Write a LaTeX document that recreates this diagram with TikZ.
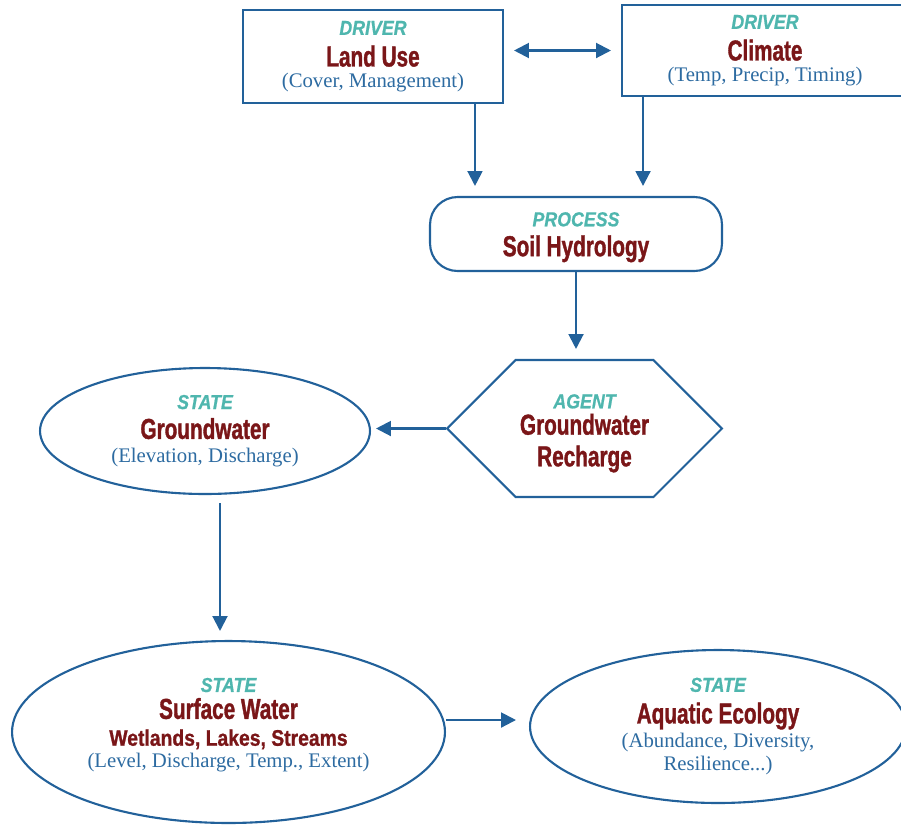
\documentclass[tikz,border=0pt]{standalone}
\usepackage{fontspec}
\usetikzlibrary{arrows.meta,positioning,calc,shapes.geometric,shapes.symbols}
\setmainfont{Liberation Serif}
\newfontfamily\kindfont{Liberation Sans}[FakeStretch=0.88,BoldItalicFeatures={FakeBold=0.8}]
\newfontfamily\titlefont{Liberation Sans}[FakeStretch=0.72,BoldFeatures={FakeBold=1.2}]
\newfontfamily\listfont{Liberation Sans}[FakeStretch=0.86,BoldFeatures={FakeBold=1.0}]
\definecolor{Frame}{HTML}{22619A}
\definecolor{Teal}{HTML}{4FB6AE}
\definecolor{Wine}{HTML}{7A1618}
\definecolor{Note}{HTML}{2D6BA1}
\newcommand\nodekind[1]{{\kindfont\bfseries\itshape\fontsize{11.5}{18}\selectfont\color{Teal}#1}}
\newcommand\nodetitle[1]{{\titlefont\bfseries\fontsize{16.4}{18}\selectfont\color{Wine}#1}}
\newcommand\nodelist[1]{{\listfont\bfseries\fontsize{12.8}{18}\selectfont\color{Wine}#1}}
\newcommand\nodenote[1]{{\fontsize{11.8}{18}\selectfont\color{Note}#1}}
\tikzset{
  box/.style={draw=Frame,line width=1.2pt,align=center,inner sep=0pt,font=\fontsize{11}{18}\selectfont},
  link/.style={draw=Frame,line width=1.2pt,-{Triangle[length=8.5pt,width=8.5pt]}}
}
\begin{document}
\begin{tikzpicture}[x=0.02cm,y=-0.02cm]
\useasboundingbox (0,0) rectangle (901,825);
\node[box,rectangle,minimum width=5.2cm,minimum height=1.86cm] (land) at (373,56.5)
  {\nodekind{DRIVER}\\\nodetitle{Land Use}\\[-6pt]\nodenote{(Cover, Management)}};
\node[box,rectangle,minimum width=5.72cm,minimum height=1.82cm] (clim) at (765,50.5)
  {\nodekind{DRIVER}\\\nodetitle{Climate}\\[-6pt]\nodenote{(Temp, Precip, Timing)}};
\node[box,rectangle,rounded corners=0.55cm,minimum width=5.84cm,minimum height=1.48cm] (soil) at (576,234)
  {\rule{0pt}{11.7pt}\nodekind{PROCESS}\\[-1pt]\nodetitle{Soil Hydrology}};
\node[box,signal,signal to=west and east,signal pointer angle=90,minimum width=5.5cm,minimum height=2.74cm] (rech) at (584.5,428.5)
  {\rule{0pt}{13.5pt}\nodekind{AGENT}\\[-3pt]\nodetitle{Groundwater}\\\nodetitle{Recharge}};
\node[box,ellipse,minimum width=6.6cm,minimum height=2.52cm] (gw) at (205,431)
  {\nodekind{STATE}\\[-1pt]\nodetitle{Groundwater}\\[-4.5pt]\nodenote{(Elevation, Discharge)}};
\node[box,ellipse,minimum width=8.66cm,minimum height=3.64cm] (sw) at (228.5,732)
  {\nodekind{STATE}\\[-2.7pt]\nodetitle{Surface Water}\\[-2.7pt]\nodelist{Wetlands, Lakes, Streams}\\[-5.5pt]\nodenote{(Level, Discharge, Temp., Extent)}\rule[-10.5pt]{0pt}{1pt}};
\node[box,ellipse,minimum width=7.52cm,minimum height=3.06cm] (aq) at (718,726.5)
  {\nodekind{STATE}\\\nodetitle{Aquatic Ecology}\\[-4.5pt]\nodenote{(Abundance, Diversity,}\\[-4.5pt]\nodenote{Resilience...)}};
\draw[link,{Triangle[length=8.5pt,width=8.5pt]}-{Triangle[length=8.5pt,width=8.5pt]}] ([xshift=0.2cm]land.east |- clim.west) -- ([xshift=-0.2cm]clim.west);
\draw[link,shorten >=0.2cm] ([xshift=2.04cm]land.south) -- ([xshift=2.04cm]land.south |- soil.north);
\draw[link,shorten >=0.2cm] ([xshift=-2.44cm]clim.south) -- ([xshift=-2.44cm]clim.south |- soil.north);
\draw[link,shorten >=0.2cm] (soil.south) -- (soil.south |- rech.north);
\draw[link,shorten >=0.1cm] (rech.west) -- (rech.west -| gw.east);
\draw[link,shorten <=0.16cm,shorten >=0.18cm] ([xshift=0.3cm]gw.south) -- ([xshift=0.3cm]gw.south |- sw.north);
\draw[link,shorten >=0.26cm] ([yshift=0.24cm]sw.east) -- ([yshift=0.24cm]sw.east -| aq.west);
\end{tikzpicture}
\end{document}
